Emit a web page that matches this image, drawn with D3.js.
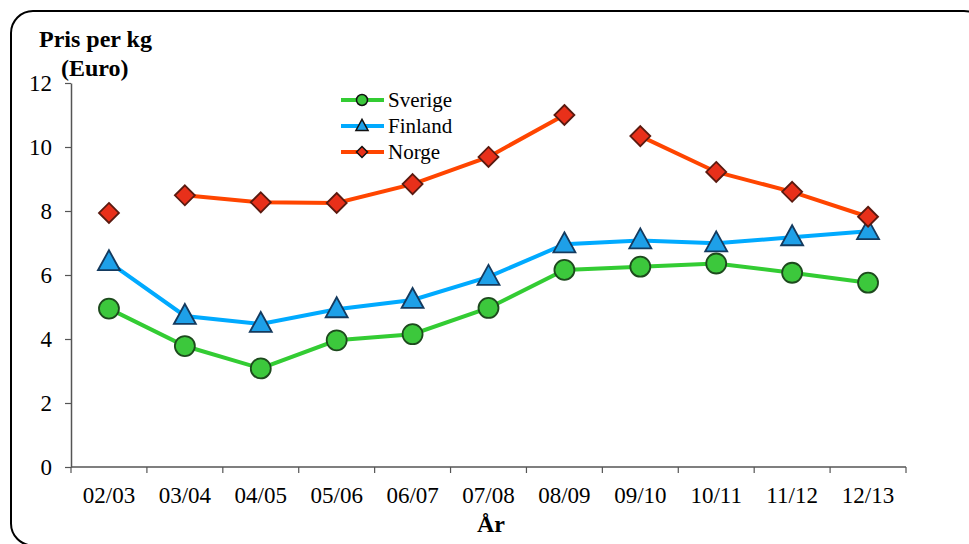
<!DOCTYPE html>
<html><head><meta charset="utf-8">
<script src="https://cdn.jsdelivr.net/npm/d3@7/dist/d3.min.js"></script>
<style>body{margin:0;background:#fff}svg{display:block}svg text{font-family:"Liberation Serif","Times New Roman",serif;fill:#000}</style>
</head><body>
<script>
const categories = ["02/03","03/04","04/05","05/06","06/07","07/08","08/09","09/10","10/11","11/12","12/13"];
const sverige = [4.95,3.78,3.08,3.96,4.15,4.97,6.16,6.26,6.36,6.07,5.76];
const finland = [6.4,4.72,4.47,4.93,5.22,5.94,6.96,7.08,6.99,7.18,7.37];
const norge   = [7.94,8.49,8.27,8.25,8.84,9.69,11.0,10.34,9.22,8.6,7.82];
// whether Norge's line joins each point to the previous one
const norgeLinked = [false,false,true,true,true,true,true,false,true,true,true];
const yTicks = [0,2,4,6,8,10,12];

const W=969,H=544;
const FONT='"Liberation Serif","Times New Roman",serif';
const svg=d3.select("body").append("svg").attr("width",W).attr("height",H).attr("font-family",FONT);
svg.append("rect").attr("x",11).attr("y",11).attr("width",975).attr("height",534.5)
  .attr("rx",22).attr("ry",22).attr("fill","none").attr("stroke","#000").attr("stroke-width",2);

const x=d3.scaleBand().domain(categories).range([71,906]);
const y=d3.scaleLinear().domain([0,12]).range([467,83]);
const cx=c=>x(c)+x.bandwidth()/2;

const gx=svg.append("g").attr("transform","translate(0,467)")
  .call(d3.axisBottom(x).tickSizeOuter(0).tickSize(6).tickPadding(14));
gx.attr("font-family",FONT).attr("font-size",null);
gx.selectAll(".tick line").remove();
gx.selectAll(".bt").data(d3.range(categories.length+1)).enter().append("line")
  .attr("x1",i=>71+i*x.step()).attr("x2",i=>71+i*x.step()).attr("y1",0).attr("y2",6)
  .attr("stroke","#555").attr("stroke-width",1.2);
gx.select(".domain").attr("stroke","#555").attr("stroke-width",1.5).attr("d","M71,0H906");
gx.selectAll("text").style("font-size","23px").attr("fill","#000");

const gy=svg.append("g").attr("transform","translate(71,0)")
  .call(d3.axisLeft(y).tickValues(yTicks).tickSize(6).tickPadding(13).tickSizeOuter(0));
gy.attr("font-family",FONT).attr("font-size",null);
gy.select(".domain").attr("stroke","#555").attr("stroke-width",1.5);
gy.selectAll(".tick line").attr("stroke","#555").attr("stroke-width",1.2);
gy.selectAll("text").style("font-size","23px").attr("fill","#000");

svg.append("text").attr("x",39).attr("y",47).style("font-size","24px").style("font-weight","bold").text("Pris per kg");
svg.append("text").attr("x",61).attr("y",76).style("font-size","24px").style("font-weight","bold").text("(Euro)");
svg.append("text").attr("x",491).attr("y",532).attr("text-anchor","middle").style("font-size","24px").style("font-weight","bold").text("År");

const line=d3.line().x(d=>cx(d.c)).y(d=>y(d.v));
const series=[
  {name:"Sverige",vals:sverige,linked:sverige.map((_,i)=>i>0),color:"#33cc33",fill:"#3cc83c",stroke:"#1d4a1d",shape:"circle"},
  {name:"Finland",vals:finland,linked:finland.map((_,i)=>i>0),color:"#00aaff",fill:"#1ea0e8",stroke:"#143a5e",shape:"triangle"},
  {name:"Norge",vals:norge,linked:norgeLinked,color:"#ff4500",fill:"#e8301a",stroke:"#5a1a10",shape:"diamond"}
];
function marker(g,shape,px,py,s,fill,stroke,sw){
  if(shape==="circle") g.append("circle").attr("cx",px).attr("cy",py).attr("r",10*s).attr("fill",fill).attr("stroke",stroke).attr("stroke-width",sw);
  else if(shape==="triangle") g.append("path").attr("d",`M${px},${py-12*s}L${px+11*s},${py+8*s}L${px-11*s},${py+8*s}Z`).attr("fill",fill).attr("stroke",stroke).attr("stroke-width",sw);
  else g.append("path").attr("d",`M${px},${py-10*s}L${px+10*s},${py}L${px},${py+10*s}L${px-10*s},${py}Z`).attr("fill",fill).attr("stroke",stroke).attr("stroke-width",sw);
}
series.forEach(s=>{
  const g=svg.append("g");
  const segs=[];let cur=[];
  s.vals.forEach((v,i)=>{ if(!s.linked[i]&&cur.length){segs.push(cur);cur=[];} cur.push({c:categories[i],v}); });
  segs.push(cur);
  segs.filter(sg=>sg.length>1).forEach(sg=>g.append("path").attr("d",line(sg)).attr("fill","none").attr("stroke",s.color).attr("stroke-width",4));
  s.vals.forEach((v,i)=>marker(g,s.shape,cx(categories[i]),y(v),1,s.fill,s.stroke,1.8));
});
const lg=svg.append("g");
series.forEach((s,i)=>{
  const ly=100+i*26;
  lg.append("line").attr("x1",341).attr("x2",384).attr("y1",ly).attr("y2",ly).attr("stroke",s.color).attr("stroke-width",4);
  marker(lg,s.shape,362,ly,0.55,s.fill,"#111",1.5);
  lg.append("text").attr("x",388).attr("y",ly+7).style("font-size","21px").text(s.name);
});
</script>
</body></html>
